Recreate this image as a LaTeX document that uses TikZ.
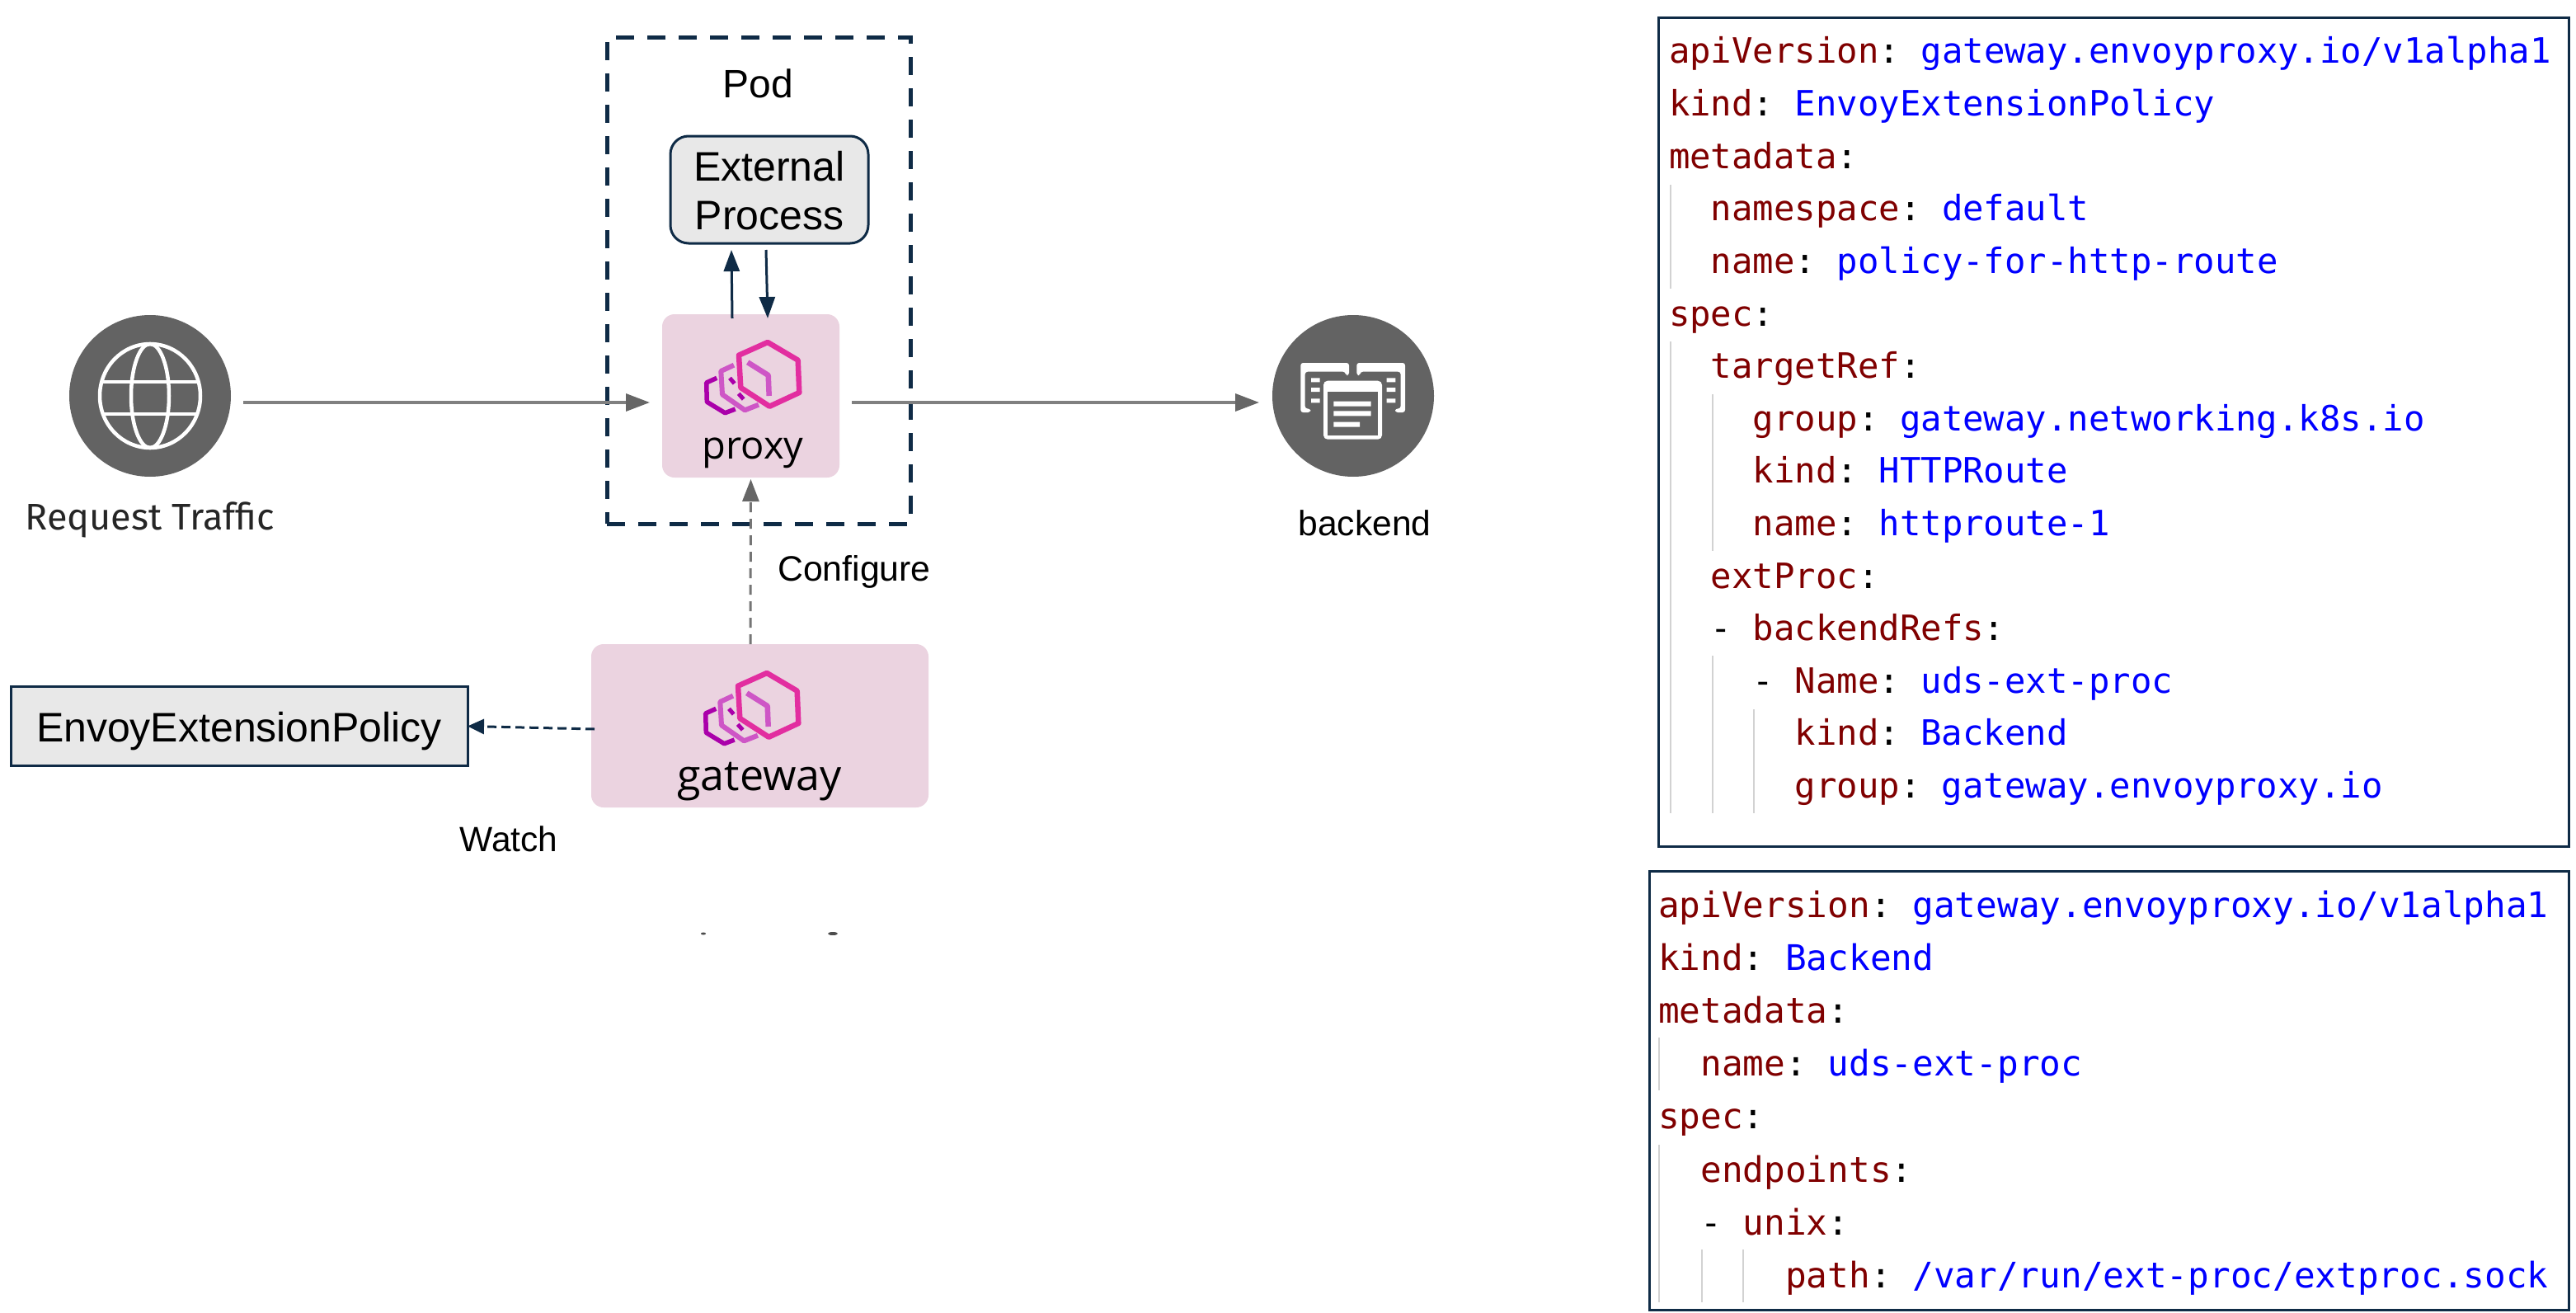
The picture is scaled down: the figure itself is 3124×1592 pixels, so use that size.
\documentclass[tikz,border=0pt]{standalone}
\usepackage{fontspec}
\setmainfont{Liberation Sans}
\setmonofont{DejaVu Sans Mono}
\newfontfamily\reqfont{Fira Sans}
\newfontfamily\logofont{Open Sans}
\usetikzlibrary{arrows.meta}
\definecolor{navy}{HTML}{0F2B46}
\definecolor{tipgray}{HTML}{666666}
\definecolor{linegray}{HTML}{808080}
\definecolor{darkdisc}{HTML}{636363}
\definecolor{paleb}{HTML}{EBD3E0}
\definecolor{boxgray}{HTML}{E8E8E8}
\definecolor{guide}{HTML}{D2D2D2}
\definecolor{keyc}{HTML}{800000}
\definecolor{valc}{HTML}{0000FF}
\definecolor{hexa}{HTML}{E22EA0}
\definecolor{hexb}{HTML}{CE56C6}
\definecolor{hexc}{HTML}{AA00AA}
\newcommand{\K}[1]{\textcolor{keyc}{#1}}
\newcommand{\V}[1]{\textcolor{valc}{#1}}
\newcommand{\fs}[1]{\fontsize{#1}{#1}\selectfont}
\tikzset{
  lbl/.style={anchor=base,inner sep=0pt,outer sep=0pt,text=black},
  pinkbox/.style={fill=paleb,rounded corners=15pt,inner sep=0pt,outer sep=0pt},
  disc/.style={circle,fill=darkdisc,inner sep=0pt,outer sep=0pt,minimum size=196pt},
  codeA/.style={anchor=base west,inner sep=0pt,outer sep=0pt,font=\ttfamily\fs{42.3}},
  codeB/.style={anchor=base west,inner sep=0pt,outer sep=0pt,font=\ttfamily\fs{42.7}},
  codebox/.style={draw=navy,line width=3pt},
  guideline/.style={draw=guide,line width=2.5pt},
  grayconn/.style={draw=linegray,line width=3.5pt,-{Triangle[length=29pt,width=21pt,color=tipgray]}},
  navyconn/.style={draw=navy,line width=3pt,-{Triangle[length=26pt,width=19pt,color=navy]}},
  envoylogo/.pic={
    \draw[hexc,line width=5.5pt,line join=round] (869.3,458.3)--(856.7,464)--(857.3,487.3)--(879.3,500.7)--(891.7,496);
    \draw[hexb,line width=6pt,line join=round] (890,442.7)--(874.3,450)--(876,478.3)--(903.3,497.3)--(920,490.7);
    \draw[hexc,line width=5pt] (885,458.3)--(890.7,465) (895.7,477.3)--(901.7,484);
    \draw[hexb,line width=6.5pt,line join=round] (906.7,439.3)--(931.7,455)--(932.7,480);
    \draw[hexa,line width=6.5pt,line join=round] (931,415)--(967.7,436.7)--(969.3,476)--(933.3,492.7)--(898.3,470)--(896,430.7)--cycle;
  }
}
\begin{document}
\begin{tikzpicture}[x=1pt,y=-1pt]
\useasboundingbox (0,0) rectangle (3124,1592);
\fill[white] (0,0) rectangle (3124,1592);

% pod
\node[draw=navy,line width=5pt,dash pattern=on 22pt off 16pt,minimum width=368pt,minimum height=589pt,inner sep=0pt,outer sep=0pt] (pod) at (920,340.5) {};
\node[lbl,font=\fs{48}] (podlabel) at (919,119) {Pod};

% boxes
\node[draw=navy,line width=3pt,fill=boxgray,rounded corners=22pt,minimum width=240pt,minimum height=130pt,inner sep=0pt,outer sep=0pt] (ext) at (933,230) {};
\node[lbl,font=\fs{50}] (extA) at (933,219) {External};
\node[lbl,font=\fs{50}] (extB) at (933,278) {Process};

\node[pinkbox,minimum width=215pt,minimum height=198pt] (proxy) at (910.5,480) {};
\pic at (0,0) {envoylogo};
\node[lbl,font=\logofont\fs{47}] (proxylabel) at (913,556) {proxy};

\node[pinkbox,minimum width=409pt,minimum height=198pt] (gateway) at (921.5,880) {};
\pic at (-1,401) {envoylogo};
\node[lbl,font=\logofont\fs{52}] (gatewaylabel) at (921,958) {gateway};

\node[draw=navy,line width=3pt,fill=boxgray,minimum width=554pt,minimum height=96pt,inner sep=0pt,outer sep=0pt] (policy) at (290,880.5) {};
\node[lbl,font=\fs{50}] (policylabel) at (290,899) {EnvoyExtensionPolicy};

% globe
\node[disc] (globe) at (182,480) {};
\begin{scope}[white,line width=4.5pt]
  \draw (182,480) ellipse [x radius=61pt,y radius=63pt];
  \draw (182,480) ellipse [x radius=23pt,y radius=63pt];
  \draw (125,463)--(239,463) (125,502)--(239,502);
\end{scope}
\node[lbl,font=\reqfont\fs{45},text=black!85] (reqlabel) at (182,642) {Request Traffic};

% backend
\node[disc] (backend) at (1641,480) {};
\fill[white,rounded corners=3pt] (1636,455)--(1636,440)--(1577.3,440)--(1577.3,500)--(1589.3,500)--(1589.3,495.5)--(1582.7,495.5)--(1582.7,450.7)--(1631.7,450.7)--(1631.7,455)--cycle;
\fill[white,rounded corners=3pt] (1645.3,455)--(1645.3,440)--(1704,440)--(1704,500)--(1692,500)--(1692,495.5)--(1698.6,495.5)--(1698.6,450.7)--(1649.6,450.7)--(1649.6,455)--cycle;
\fill[white] (1590,458.3) rectangle (1600.7,463.3) (1590,470) rectangle (1600.7,475) (1590,483.3) rectangle (1600.7,488.3);
\fill[white] (1681.7,458.3) rectangle (1692.4,463.3) (1681.7,470) rectangle (1692.4,475) (1681.7,483.3) rectangle (1692.4,488.3);
\fill[white,rounded corners=5pt] (1605,461.7) rectangle (1676,532.7);
\fill[darkdisc] (1610,475) rectangle (1671,527.7);
\fill[white] (1617.3,486.7) rectangle (1662.7,492.7) (1617.3,498.3) rectangle (1662.7,504.3) (1617.3,511.7) rectangle (1649,517.7);
\node[lbl,font=\fs{42.6}] (backendlabel) at (1655,649) {backend};

% connectors
\draw[grayconn] ([xshift=15pt,yshift=-8pt]globe.east) -- ([xshift=-15pt,yshift=-8pt]proxy.west);
\draw[grayconn] ([xshift=15pt,yshift=-8pt]proxy.east) -- ([xshift=-16pt,yshift=-8pt]backend.west);
\draw[navyconn] ([xshift=-22.5pt,yshift=-5pt]proxy.north) -- ([xshift=-46pt,yshift=-8pt]ext.south);
\draw[navyconn] ([xshift=-4pt,yshift=-8pt]ext.south) -- ([xshift=20.5pt,yshift=-5pt]proxy.north);
\draw[draw=tipgray!90,line width=3pt,dash pattern=on 12pt off 8pt,-{Triangle[length=27pt,width=20pt,color=tipgray]}] ([xshift=-11.5pt]gateway.north) -- ([yshift=-2pt]proxy.south);
\draw[draw=navy,line width=3pt,dash pattern=on 11pt off 6pt,-{Triangle[length=20pt,width=18pt,color=navy]}] ([xshift=4pt,yshift=-4pt]gateway.west) -- (policy.east);

\node[lbl,font=\fs{42.8}] (configlabel) at (1036,704) {Configure};
\node[lbl,font=\fs{42.5}] (watchlabel) at (617,1032) {Watch};

% stray marks
\fill[black!70] (853,1132) ellipse [x radius=3pt,y radius=1.5pt];
\fill[black!70] (1010,1132) ellipse [x radius=6pt,y radius=2pt];

% first yaml
\node[codebox,minimum width=1104pt,minimum height=1004pt,inner sep=0pt,outer sep=0pt] (yamlA) at (2563,524) {};
\draw[guideline] (2026,224)--(2026,350) (2026,414)--(2026,986) (2077,478)--(2077,668) (2077,795)--(2077,986) (2127,860)--(2127,986);
\node[codeA] (a0) at (2024,77) {\K{apiVersion}: \V{gateway.envoyproxy.io/v1alpha1}};
\node[codeA] (a1) at (2024,140.6) {\K{kind}: \V{EnvoyExtensionPolicy}};
\node[codeA] (a2) at (2024,204.2) {\K{metadata}:};
\node[codeA] (a3) at (2074.9,267.8) {\K{namespace}: \V{default}};
\node[codeA] (a4) at (2074.9,331.4) {\K{name}: \V{policy-for-http-route}};
\node[codeA] (a5) at (2024,395) {\K{spec}:};
\node[codeA] (a6) at (2074.9,458.6) {\K{targetRef}:};
\node[codeA] (a7) at (2125.8,522.2) {\K{group}: \V{gateway.networking.k8s.io}};
\node[codeA] (a8) at (2125.8,585.8) {\K{kind}: \V{HTTPRoute}};
\node[codeA] (a9) at (2125.8,649.4) {\K{name}: \V{httproute-1}};
\node[codeA] (a10) at (2074.9,713) {\K{extProc}:};
\node[codeA] (a11) at (2074.9,776.6) {- \K{backendRefs}:};
\node[codeA] (a12) at (2125.8,840.2) {- \K{Name}: \V{uds-ext-proc}};
\node[codeA] (a13) at (2176.7,903.8) {\K{kind}: \V{Backend}};
\node[codeA] (a14) at (2176.7,967.4) {\K{group}: \V{gateway.envoyproxy.io}};

% second yaml
\node[codebox,minimum width=1115pt,minimum height=532pt,inner sep=0pt,outer sep=0pt] (yamlB) at (2557.5,1322) {};
\draw[guideline] (2012,1258)--(2012,1322) (2012,1388)--(2012,1579) (2064,1515)--(2064,1579) (2114,1515)--(2114,1579);
\node[codeB] (b0) at (2011,1112) {\K{apiVersion}: \V{gateway.envoyproxy.io/v1alpha1}};
\node[codeB] (b1) at (2011,1176) {\K{kind}: \V{Backend}};
\node[codeB] (b2) at (2011,1240) {\K{metadata}:};
\node[codeB] (b3) at (2062.4,1304) {\K{name}: \V{uds-ext-proc}};
\node[codeB] (b4) at (2011,1368) {\K{spec}:};
\node[codeB] (b5) at (2062.4,1433) {\K{endpoints}:};
\node[codeB] (b6) at (2062.4,1497) {- \K{unix}:};
\node[codeB] (b7) at (2165.2,1561) {\K{path}: \V{/var/run/ext-proc/extproc.sock}};
\end{tikzpicture}
\end{document}
